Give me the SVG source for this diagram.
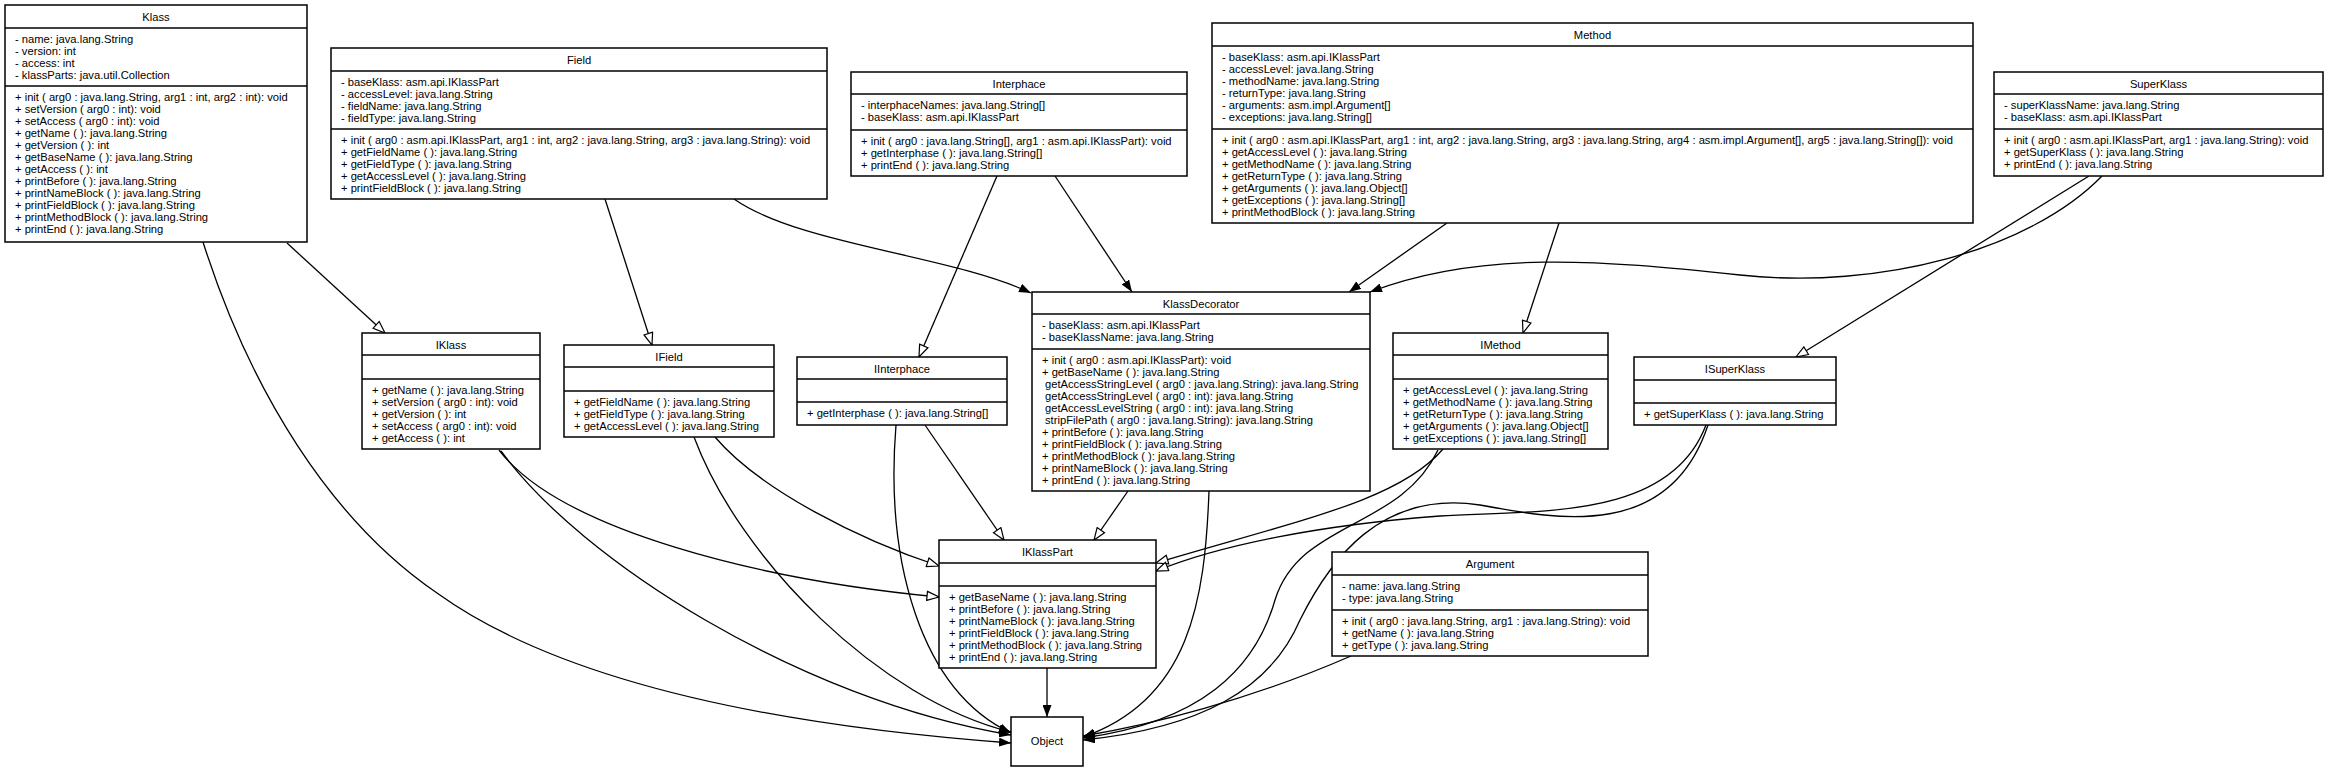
<svg xmlns="http://www.w3.org/2000/svg" width="2329" height="772" viewBox="0 0 2329 772">
<style>
.bg{fill:#ffffff}
.box{fill:#ffffff;stroke:#000000;stroke-width:1.5}
.sep{stroke:#000000;stroke-width:1.5}
text{font-family:"Liberation Sans",Arial,sans-serif;font-size:11.2px;fill:#000000}
.t{text-anchor:middle}
.e{fill:none;stroke:#000000;stroke-width:1.3}
.ext{marker-end:url(#filled)}
.imp{marker-end:url(#open)}
</style>
<defs>
<marker id="filled" viewBox="0 0 12 9" refX="12" refY="4.5" markerWidth="12" markerHeight="9" orient="auto" markerUnits="userSpaceOnUse"><path d="M0,0 L12,4.5 L0,9 z" fill="#000000"/></marker>
<marker id="open" viewBox="-1 -1 14 11" refX="12" refY="4.5" markerWidth="14" markerHeight="11" orient="auto" markerUnits="userSpaceOnUse"><path d="M0,0 L12,4.5 L0,9 z" fill="#ffffff" stroke="#000000" stroke-width="1.2"/></marker>
</defs>
<rect class="bg" x="0" y="0" width="2329" height="772"/>

<g id="edges">
<path class="e imp" d="M287,243 L385,333"/>
<path class="e ext" d="M203,242 C250,390 330,520 437,593 C530,660 700,720 1011,743"/>
<path class="e imp" d="M499,450 C560,530 760,580 939,597"/>
<path class="e ext" d="M501,451 C580,560 800,700 1011,735"/>
<path class="e imp" d="M715,437 C760,490 860,540 939,566"/>
<path class="e ext" d="M694,437 C740,560 880,700 1011,732"/>
<path class="e imp" d="M605,199 L652,345"/>
<path class="e ext" d="M734,199 C800,245 950,255 1031,293"/>
<path class="e imp" d="M997,176 L919,357"/>
<path class="e ext" d="M1055,176 L1132,292"/>
<path class="e ext" d="M896,425 C885,560 920,690 1011,733"/>
<path class="e imp" d="M925,425 L1004,540"/>
<path class="e ext" d="M1447,223 L1349,292"/>
<path class="e imp" d="M1559,223 L1523,333"/>
<path class="e ext" d="M2102,176 C2030,250 1880,290 1740,275 C1600,260 1480,250 1370,292"/>
<path class="e imp" d="M2089,176 L1796,357"/>
<path class="e imp" d="M1128,491 L1094,540"/>
<path class="e ext" d="M1209,491 C1205,600 1190,700 1083,737"/>
<path class="e imp" d="M1443,449 C1400,500 1300,520 1156,563"/>
<path class="e ext" d="M1438,450 C1400,530 1300,520 1275,600 C1255,670 1200,722 1083,738"/>
<path class="e imp" d="M1706,425 C1670,520 1540,510 1440,516 C1320,525 1220,545 1156,571"/>
<path class="e ext" d="M1708,425 C1670,540 1560,520 1480,505 C1380,490 1330,560 1300,620 C1270,690 1200,728 1083,740"/>
<path class="e ext" d="M1351,656 C1250,700 1150,725 1083,736"/>
<path class="e ext" d="M1047,668 L1047,717"/>
</g>

<g id="Klass">
<rect class="box" x="5" y="5" width="302" height="237"/>
<line class="sep" x1="5" y1="28" x2="307" y2="28"/>
<line class="sep" x1="5" y1="86" x2="307" y2="86"/>
<text class="t" x="156" y="20.5">Klass</text>
<text x="15" y="43">- name: java.lang.String</text>
<text x="15" y="55">- version: int</text>
<text x="15" y="67">- access: int</text>
<text x="15" y="79">- klassParts: java.util.Collection</text>
<text x="15" y="101">+ init ( arg0 : java.lang.String, arg1 : int, arg2 : int): void</text>
<text x="15" y="113">+ setVersion ( arg0 : int): void</text>
<text x="15" y="125">+ setAccess ( arg0 : int): void</text>
<text x="15" y="137">+ getName ( ): java.lang.String</text>
<text x="15" y="149">+ getVersion ( ): int</text>
<text x="15" y="161">+ getBaseName ( ): java.lang.String</text>
<text x="15" y="173">+ getAccess ( ): int</text>
<text x="15" y="185">+ printBefore ( ): java.lang.String</text>
<text x="15" y="197">+ printNameBlock ( ): java.lang.String</text>
<text x="15" y="209">+ printFieldBlock ( ): java.lang.String</text>
<text x="15" y="221">+ printMethodBlock ( ): java.lang.String</text>
<text x="15" y="233">+ printEnd ( ): java.lang.String</text>
</g>

<g id="Field">
<rect class="box" x="331" y="48" width="496" height="151"/>
<line class="sep" x1="331" y1="71" x2="827" y2="71"/>
<line class="sep" x1="331" y1="129" x2="827" y2="129"/>
<text class="t" x="579" y="63.5">Field</text>
<text x="341" y="86">- baseKlass: asm.api.IKlassPart</text>
<text x="341" y="98">- accessLevel: java.lang.String</text>
<text x="341" y="110">- fieldName: java.lang.String</text>
<text x="341" y="122">- fieldType: java.lang.String</text>
<text x="341" y="144">+ init ( arg0 : asm.api.IKlassPart, arg1 : int, arg2 : java.lang.String, arg3 : java.lang.String): void</text>
<text x="341" y="156">+ getFieldName ( ): java.lang.String</text>
<text x="341" y="168">+ getFieldType ( ): java.lang.String</text>
<text x="341" y="180">+ getAccessLevel ( ): java.lang.String</text>
<text x="341" y="192">+ printFieldBlock ( ): java.lang.String</text>
</g>

<g id="Interphace">
<rect class="box" x="851" y="72" width="336" height="104"/>
<line class="sep" x1="851" y1="94" x2="1187" y2="94"/>
<line class="sep" x1="851" y1="130" x2="1187" y2="130"/>
<text class="t" x="1019" y="87.5">Interphace</text>
<text x="861" y="109">- interphaceNames: java.lang.String[]</text>
<text x="861" y="121">- baseKlass: asm.api.IKlassPart</text>
<text x="861" y="145">+ init ( arg0 : java.lang.String[], arg1 : asm.api.IKlassPart): void</text>
<text x="861" y="157">+ getInterphase ( ): java.lang.String[]</text>
<text x="861" y="169">+ printEnd ( ): java.lang.String</text>
</g>

<g id="Method">
<rect class="box" x="1212" y="23" width="761" height="200"/>
<line class="sep" x1="1212" y1="46" x2="1973" y2="46"/>
<line class="sep" x1="1212" y1="129" x2="1973" y2="129"/>
<text class="t" x="1592.5" y="38.5">Method</text>
<text x="1222" y="61">- baseKlass: asm.api.IKlassPart</text>
<text x="1222" y="73">- accessLevel: java.lang.String</text>
<text x="1222" y="85">- methodName: java.lang.String</text>
<text x="1222" y="97">- returnType: java.lang.String</text>
<text x="1222" y="109">- arguments: asm.impl.Argument[]</text>
<text x="1222" y="121">- exceptions: java.lang.String[]</text>
<text x="1222" y="144">+ init ( arg0 : asm.api.IKlassPart, arg1 : int, arg2 : java.lang.String, arg3 : java.lang.String, arg4 : asm.impl.Argument[], arg5 : java.lang.String[]): void</text>
<text x="1222" y="156">+ getAccessLevel ( ): java.lang.String</text>
<text x="1222" y="168">+ getMethodName ( ): java.lang.String</text>
<text x="1222" y="180">+ getReturnType ( ): java.lang.String</text>
<text x="1222" y="192">+ getArguments ( ): java.lang.Object[]</text>
<text x="1222" y="204">+ getExceptions ( ): java.lang.String[]</text>
<text x="1222" y="216">+ printMethodBlock ( ): java.lang.String</text>
</g>

<g id="SuperKlass">
<rect class="box" x="1994" y="72" width="329" height="104"/>
<line class="sep" x1="1994" y1="94" x2="2323" y2="94"/>
<line class="sep" x1="1994" y1="129" x2="2323" y2="129"/>
<text class="t" x="2158.5" y="87.5">SuperKlass</text>
<text x="2004" y="109">- superKlassName: java.lang.String</text>
<text x="2004" y="121">- baseKlass: asm.api.IKlassPart</text>
<text x="2004" y="144">+ init ( arg0 : asm.api.IKlassPart, arg1 : java.lang.String): void</text>
<text x="2004" y="156">+ getSuperKlass ( ): java.lang.String</text>
<text x="2004" y="168">+ printEnd ( ): java.lang.String</text>
</g>

<g id="KlassDecorator">
<rect class="box" x="1032" y="292" width="338" height="199"/>
<line class="sep" x1="1032" y1="314" x2="1370" y2="314"/>
<line class="sep" x1="1032" y1="349" x2="1370" y2="349"/>
<text class="t" x="1201" y="307.5">KlassDecorator</text>
<text x="1042" y="329">- baseKlass: asm.api.IKlassPart</text>
<text x="1042" y="341">- baseKlassName: java.lang.String</text>
<text x="1042" y="364">+ init ( arg0 : asm.api.IKlassPart): void</text>
<text x="1042" y="376">+ getBaseName ( ): java.lang.String</text>
<text x="1045" y="388">getAccessStringLevel ( arg0 : java.lang.String): java.lang.String</text>
<text x="1045" y="400">getAccessStringLevel ( arg0 : int): java.lang.String</text>
<text x="1045" y="412">getAccessLevelString ( arg0 : int): java.lang.String</text>
<text x="1045" y="424">stripFilePath ( arg0 : java.lang.String): java.lang.String</text>
<text x="1042" y="436">+ printBefore ( ): java.lang.String</text>
<text x="1042" y="448">+ printFieldBlock ( ): java.lang.String</text>
<text x="1042" y="460">+ printMethodBlock ( ): java.lang.String</text>
<text x="1042" y="472">+ printNameBlock ( ): java.lang.String</text>
<text x="1042" y="484">+ printEnd ( ): java.lang.String</text>
</g>

<g id="IKlass">
<rect class="box" x="362" y="333" width="178" height="116"/>
<line class="sep" x1="362" y1="355" x2="540" y2="355"/>
<line class="sep" x1="362" y1="379" x2="540" y2="379"/>
<text class="t" x="451" y="348.5">IKlass</text>
<text x="372" y="394">+ getName ( ): java.lang.String</text>
<text x="372" y="406">+ setVersion ( arg0 : int): void</text>
<text x="372" y="418">+ getVersion ( ): int</text>
<text x="372" y="430">+ setAccess ( arg0 : int): void</text>
<text x="372" y="442">+ getAccess ( ): int</text>
</g>

<g id="IField">
<rect class="box" x="564" y="345" width="210" height="92"/>
<line class="sep" x1="564" y1="367" x2="774" y2="367"/>
<line class="sep" x1="564" y1="391" x2="774" y2="391"/>
<text class="t" x="669" y="360.5">IField</text>
<text x="574" y="406">+ getFieldName ( ): java.lang.String</text>
<text x="574" y="418">+ getFieldType ( ): java.lang.String</text>
<text x="574" y="430">+ getAccessLevel ( ): java.lang.String</text>
</g>

<g id="IInterphace">
<rect class="box" x="797" y="357" width="210" height="68"/>
<line class="sep" x1="797" y1="379" x2="1007" y2="379"/>
<line class="sep" x1="797" y1="402" x2="1007" y2="402"/>
<text class="t" x="902" y="372.5">IInterphace</text>
<text x="807" y="417">+ getInterphase ( ): java.lang.String[]</text>
</g>

<g id="IMethod">
<rect class="box" x="1393" y="333" width="215" height="116"/>
<line class="sep" x1="1393" y1="355" x2="1608" y2="355"/>
<line class="sep" x1="1393" y1="379" x2="1608" y2="379"/>
<text class="t" x="1500.5" y="348.5">IMethod</text>
<text x="1403" y="394">+ getAccessLevel ( ): java.lang.String</text>
<text x="1403" y="406">+ getMethodName ( ): java.lang.String</text>
<text x="1403" y="418">+ getReturnType ( ): java.lang.String</text>
<text x="1403" y="430">+ getArguments ( ): java.lang.Object[]</text>
<text x="1403" y="442">+ getExceptions ( ): java.lang.String[]</text>
</g>

<g id="ISuperKlass">
<rect class="box" x="1634" y="357" width="202" height="68"/>
<line class="sep" x1="1634" y1="380" x2="1836" y2="380"/>
<line class="sep" x1="1634" y1="403" x2="1836" y2="403"/>
<text class="t" x="1735" y="372.5">ISuperKlass</text>
<text x="1644" y="418">+ getSuperKlass ( ): java.lang.String</text>
</g>

<g id="IKlassPart">
<rect class="box" x="939" y="540" width="217" height="128"/>
<line class="sep" x1="939" y1="563" x2="1156" y2="563"/>
<line class="sep" x1="939" y1="586" x2="1156" y2="586"/>
<text class="t" x="1047.5" y="555.5">IKlassPart</text>
<text x="949" y="601">+ getBaseName ( ): java.lang.String</text>
<text x="949" y="613">+ printBefore ( ): java.lang.String</text>
<text x="949" y="625">+ printNameBlock ( ): java.lang.String</text>
<text x="949" y="637">+ printFieldBlock ( ): java.lang.String</text>
<text x="949" y="649">+ printMethodBlock ( ): java.lang.String</text>
<text x="949" y="661">+ printEnd ( ): java.lang.String</text>
</g>

<g id="Argument">
<rect class="box" x="1332" y="552" width="316" height="104"/>
<line class="sep" x1="1332" y1="575" x2="1648" y2="575"/>
<line class="sep" x1="1332" y1="610" x2="1648" y2="610"/>
<text class="t" x="1490" y="567.5">Argument</text>
<text x="1342" y="590">- name: java.lang.String</text>
<text x="1342" y="602">- type: java.lang.String</text>
<text x="1342" y="625">+ init ( arg0 : java.lang.String, arg1 : java.lang.String): void</text>
<text x="1342" y="637">+ getName ( ): java.lang.String</text>
<text x="1342" y="649">+ getType ( ): java.lang.String</text>
</g>

<g id="Object">
<rect class="box" x="1011" y="717" width="72" height="49"/>
<text class="t" x="1047" y="745">Object</text>
</g>
</svg>
